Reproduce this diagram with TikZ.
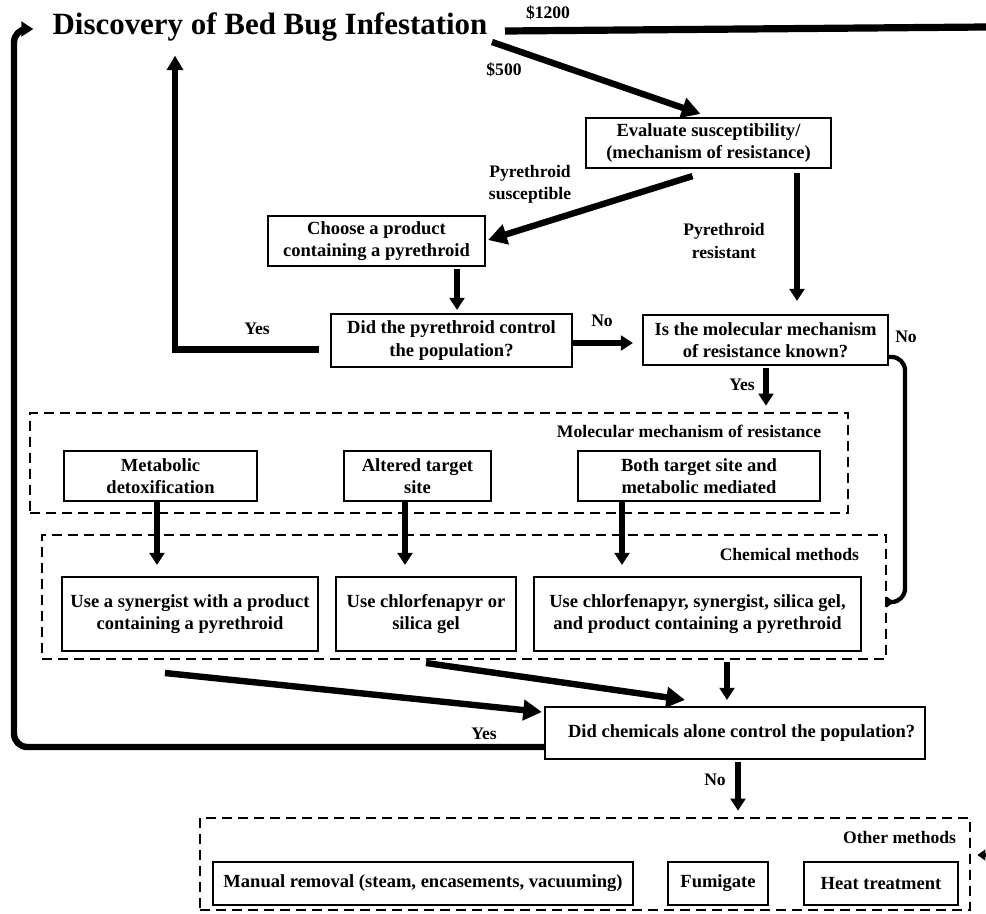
\documentclass[tikz,border=0pt]{standalone}
\usepackage{fontspec}
\setmainfont{Liberation Serif}
\usetikzlibrary{arrows.meta,calc}
\begin{document}
\begin{tikzpicture}[x=0.75pt,y=-0.75pt,
 box/.style={draw,line width=1.6pt,align=center,inner sep=0pt,font=\fontsize{13.9}{16.8}\selectfont\bfseries},
 frame/.style={draw,line width=2pt,dash pattern=on 7.5pt off 4.5pt,inner sep=0pt},
 lbl/.style={font=\fontsize{13.2}{16.8}\selectfont\bfseries,align=center,inner sep=0pt},
 arr/.style={line width=4.8pt,-{Triangle[length=9pt,width=11pt]}},
 bigarr/.style={line width=4.8pt,-{Triangle[length=14pt,width=15pt]}},
 slimarr/.style={line width=3.2pt,-{Triangle[length=6pt,width=8pt]}},
 heavy/.style={line width=4.8pt}
]
\useasboundingbox (0,0) rectangle (986,914);

% title
\node[inner sep=0pt,font=\fontsize{23.2}{28}\selectfont\bfseries] (title) at (270,27) {Discovery of Bed Bug Infestation};

% boxes
\node[box,minimum width=183.75pt,minimum height=37.5pt] (eval) at (708.5,143) {Evaluate susceptibility/\\(mechanism of resistance)};
\node[box,minimum width=162.75pt,minimum height=37.5pt] (choose) at (376.5,241) {Choose a product\\containing a pyrethroid};
\node[box,minimum width=180.75pt,minimum height=39.75pt] (didpyr) at (451.5,340.5) {Did the pyrethroid control\\the population?};
\node[box,minimum width=183.75pt,minimum height=37.5pt] (ismol) at (765.5,340) {Is the molecular mechanism\\of resistance known?};

\node[frame,minimum width=613.5pt,minimum height=75pt] (molframe) at (439,463) {};
\node[lbl,anchor=east] at ($(molframe.north east)+(-28,20)$) {Molecular mechanism of resistance};
\node[box,minimum width=144.75pt,minimum height=37.5pt] (metab) at (160.5,476) {Metabolic\\detoxification};
\node[box,minimum width=110.25pt,minimum height=37.5pt] (altered) at (417.5,476) {Altered target\\site};
\node[box,minimum width=181.5pt,minimum height=37.5pt] (both) at (699,476) {Both target site and\\metabolic mediated};

\node[frame,minimum width=633pt,minimum height=93pt] (chemframe) at (464,597) {};
\node[lbl,anchor=east] at ($(chemframe.north east)+(-28,21)$) {Chemical methods};
\node[box,minimum width=192pt,minimum height=55.5pt] (syn) at (190,614) {Use a synergist with a product\\containing a pyrethroid};
\node[box,minimum width=135pt,minimum height=55.5pt] (chl) at (426,614) {Use chlorfenapyr or\\silica gel};
\node[box,minimum width=245.25pt,minimum height=55.5pt] (allc) at (697.5,614) {Use chlorfenapyr, synergist, silica gel,\\and product containing a pyrethroid};

\node[box,minimum width=285pt,minimum height=39pt] (didchem) at (735,733) {\hspace*{10pt}Did chemicals alone control the population?};

\node[frame,minimum width=577.5pt,minimum height=69pt] (otherframe) at (585,864) {};
\node[lbl,anchor=east] at ($(otherframe.north east)+(-15,21)$) {Other methods};
\node[box,minimum width=315pt,minimum height=32.25pt] (manual) at (423,883.5) {Manual removal (steam, encasements, vacuuming)};
\node[box,minimum width=75pt,minimum height=32.25pt] (fumig) at (718,883.5) {Fumigate};
\node[box,minimum width=115.5pt,minimum height=32.25pt] (heat) at (881,883.5) {Heat treatment};

% free ends
\coordinate (r1200) at (986,27);
\coordinate (s1) at (165,673);
\coordinate (s2) at (426,663);
\coordinate (rstub) at (986,855);

% connectors
\draw[line width=5.4pt] (505,31) -- (r1200);
\node[lbl] at (548,13) {\$1200};
\draw[bigarr] (492,42) -- ($(eval.north)+(-8,-3)$);
\node[lbl] at (504,70) {\$500};

\draw[bigarr] ($(eval.south)+(-16,7)$) -- ($(choose.east)+(2,-1)$);
\node[lbl] at (530,184) {Pyrethroid\\susceptible};

\draw[arr] ($(eval.south)+(88.5,4)$) -- ($(ismol.north)+(31.5,-13)$);
\node[lbl] at (724,241) {Pyrethroid\\resistant};

\draw[arr] ($(choose.south)+(80.5,2)$) -- ($(didpyr.north)+(5.5,-3)$);

\draw[heavy,-{Triangle[length=11pt,width=12pt]}] ($(didpyr.west)+(-11,9)$) -- (175,349.5) -- ($(title.south)+(-95,14)$);
\node[lbl] at (257,329) {Yes};

\draw[arr] ($(didpyr.east)+(0,2.5)$) -- ($(ismol.west)+(-9,3)$);
\node[lbl] at (602,321) {No};

\draw[slimarr,rounded corners=10pt] ($(ismol.east)+(0,17)$) -- (905,357) -- (905,602) -- ($(chemframe.east)+(7,5)$);
\node[lbl] at (906,337) {No};

\draw[arr] ($(ismol.south)+(0.5,2)$) -- ($(molframe.north)+(327,-6)$);
\node[lbl] at (742,385) {Yes};

\draw[arr] ($(metab.south)+(-3.5,0)$) -- ($(syn.north)+(-33,-11)$);
\draw[arr] ($(altered.south)+(-12.5,0)$) -- ($(chl.north)+(-21,-11)$);
\draw[arr] ($(both.south)+(-77,0)$) -- ($(allc.north)+(-75.5,-11)$);

\draw[bigarr] (s1) -- ($(didchem.west)+(-2,-21)$);
\draw[bigarr] (s2) -- ($(didchem.north)+(-50,-6)$);
\draw[arr] ($(chemframe.south)+(263,2)$) -- ($(didchem.north)+(-8,-6)$);

\draw[heavy,-{Triangle[length=9pt,width=11pt]},rounded corners=10pt] ($(didchem.west)+(0,14)$) -- (14,747) -- (14,29) -- ($(title.west)+(-19,2)$);
\node[lbl] at (484,734) {Yes};

\draw[arr] ($(didchem.south)+(3,2)$) -- ($(otherframe.north)+(153,-6)$);
\node[lbl] at (715,780) {No};

\draw[line width=3pt,-{Triangle[length=6pt,width=8pt]}] (rstub) -- ($(otherframe.east)+(6,-9)$);
\end{tikzpicture}
\end{document}
